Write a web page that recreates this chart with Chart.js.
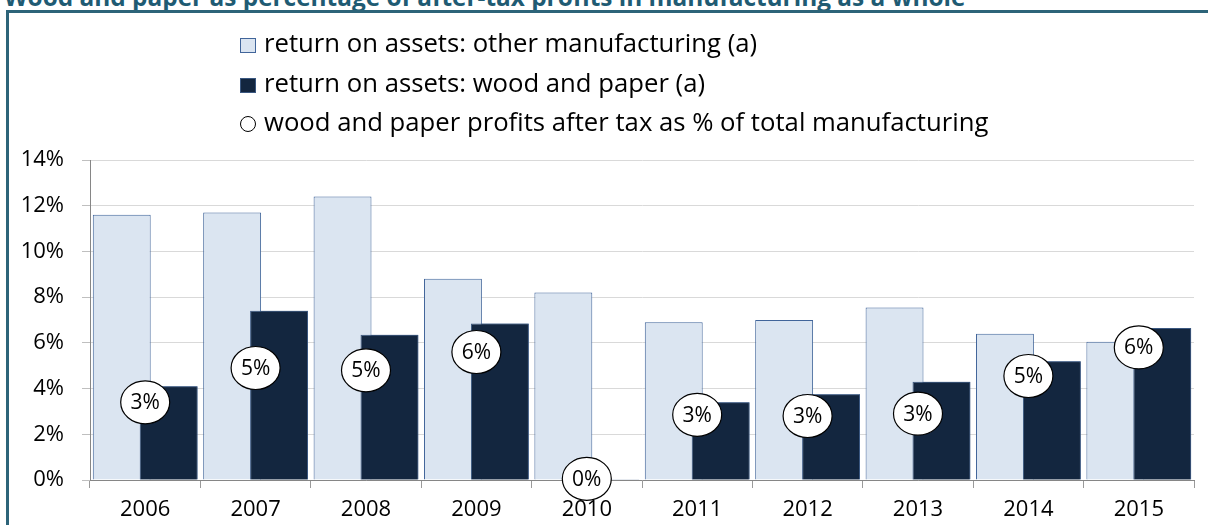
<!DOCTYPE html>
<html>
<head>
<meta charset="utf-8">
<script src="https://cdn.jsdelivr.net/npm/chart.js@4.4.1/dist/chart.umd.min.js"></script>
<style>
  html, body { margin: 0; padding: 0; background: #fff; }
  body { width: 1208px; height: 525px; position: relative; overflow: hidden; font-family: 'Open Sans', sans-serif; }
  #title { position: absolute; left: 4px; top: -15px; font-weight: bold; font-size: 24.4px; line-height: 23px; color: #1f5b73; white-space: nowrap; }
  #frame { position: absolute; left: 6px; top: 10px; width: 1300px; height: 600px; border-left: 3px solid #2d6479; border-top: 3px solid #2d6479; }
  #wrap { position: absolute; left: 0; top: 0; width: 1208px; height: 525px; }
  #legend { position: absolute; left: 240px; top: 23px; font-size: 25.7px; color: #000; }
  #legend .row { height: 39.5px; line-height: 39.5px; white-space: nowrap; }
  #legend .mark { display: inline-block; width: 16px; height: 15px; margin-right: 8px; vertical-align: -1px; box-sizing: border-box; }
  #legend .dot { display: inline-block; width: 16px; height: 16px; border-radius: 50%; border: 1.5px solid #000; margin-right: 8px; vertical-align: -1px; box-sizing: border-box; }
</style>
</head>
<body>
<div id="title">Wood and paper as percentage of after-tax profits in manufacturing as a whole</div>
<div id="frame"></div>
<div id="wrap"><canvas id="chart" width="1208" height="525"></canvas></div>
<div id="legend"></div>
<script>
const years = ['2006', '2007', '2008', '2009', '2010', '2011', '2012', '2013', '2014', '2015'];
// return on assets, per cent
const otherManufacturing = [11.6, 11.7, 12.4, 8.8, 8.2, 6.9, 7.0, 7.55, 6.4, 6.05];
const woodAndPaper = [4.1, 7.4, 6.35, 6.85, 0.03, 3.4, 3.75, 4.3, 5.2, 6.65];
// wood and paper share of manufacturing profits after tax, per cent
const woodShare = [3.4, 4.9, 4.8, 5.6, 0.05, 2.85, 2.8, 2.9, 4.55, 5.8];

const seriesNames = [
  'return on assets: other manufacturing (a)',
  'return on assets: wood and paper (a)',
  'wood and paper profits after tax as % of total manufacturing'
];

const lightFill = '#dbe5f1', lightEdge = '#41659a';
const darkFill = '#13263f', darkEdge = '#3a5780';

// grouped bars put the left one on top; the wood and paper bars go over it
const darkOnTop = {
  id: 'darkOnTop',
  afterDatasetsDraw(chart) {
    const meta = chart.getDatasetMeta(1);
    const area = chart.chartArea;
    const ctx = chart.ctx;
    ctx.save();
    ctx.beginPath();
    ctx.rect(area.left, area.top - 2, area.right - area.left, area.bottom - area.top + 4);
    ctx.clip();
    meta.controller.draw();
    ctx.restore();
  }
};

// white ellipses with the rounded share, sitting on the share value
const shareBubbles = {
  id: 'shareBubbles',
  afterDatasetsDraw(chart) {
    const meta = chart.getDatasetMeta(2);
    const ctx = chart.ctx;
    ctx.save();
    meta.data.forEach((pt, i) => {
      ctx.beginPath();
      ctx.ellipse(pt.x, pt.y, 24.5, 21.5, 0, 0, Math.PI * 2);
      ctx.fillStyle = '#fff';
      ctx.fill();
      ctx.lineWidth = 1.2;
      ctx.strokeStyle = '#000';
      ctx.stroke();
      ctx.fillStyle = '#000';
      ctx.font = '21px "Open Sans"';
      ctx.textAlign = 'center';
      ctx.textBaseline = 'middle';
      ctx.fillText(Math.round(woodShare[i]) + '%', pt.x, pt.y + 1);
    });
    ctx.restore();
  }
};

const chart = new Chart(document.getElementById('chart'), {
  data: {
    labels: years,
    datasets: [
      {
        type: 'bar', label: seriesNames[0], data: otherManufacturing,
        backgroundColor: lightFill, borderColor: lightEdge, borderWidth: 1,
        categoryPercentage: 0.85, barPercentage: 1.234
      },
      {
        type: 'bar', label: seriesNames[1], data: woodAndPaper,
        backgroundColor: darkFill, borderColor: darkEdge, borderWidth: 1,
        categoryPercentage: 0.85, barPercentage: 1.234
      },
      {
        type: 'line', label: seriesNames[2], data: woodShare,
        showLine: false, pointRadius: 0, pointHoverRadius: 0
      }
    ]
  },
  options: {
    responsive: false,
    animation: false,
    devicePixelRatio: 1,
    layout: { padding: { top: 160, left: 0, right: 14, bottom: 0 } },
    plugins: { legend: { display: false }, tooltip: { enabled: false } },
    scales: {
      x: {
        offset: true,
        grid: { offset: true, drawOnChartArea: false, drawTicks: true, tickLength: 8, color: '#9a9a9a' },
        border: { color: '#868686' },
        ticks: { color: '#000', font: { family: 'Open Sans', size: 22 }, padding: 9 },
        afterFit: s => { s.height = 45; }
      },
      y: {
        min: 0, max: 14,
        grid: { color: '#d9d9d9', tickLength: 8, tickColor: '#bfbfbf' },
        border: { color: '#868686' },
        ticks: {
          stepSize: 2, color: '#000', padding: 18,
          font: { family: 'Open Sans', size: 22 },
          callback: v => v + '%'
        },
        afterFit: s => { s.width = 90; }
      }
    }
  },
  plugins: [darkOnTop, shareBubbles]
});

// legend stacked in one column, built from the datasets
const legend = document.getElementById('legend');
chart.data.datasets.forEach((ds, i) => {
  const row = document.createElement('div');
  row.className = 'row';
  const mark = document.createElement('span');
  if (ds.type === 'bar') {
    mark.className = 'mark';
    mark.style.background = ds.backgroundColor;
    mark.style.border = '1px solid ' + ds.borderColor;
  } else {
    mark.className = 'dot';
  }
  row.appendChild(mark);
  row.appendChild(document.createTextNode(ds.label));
  legend.appendChild(row);
});
</script>
</body>
</html>
